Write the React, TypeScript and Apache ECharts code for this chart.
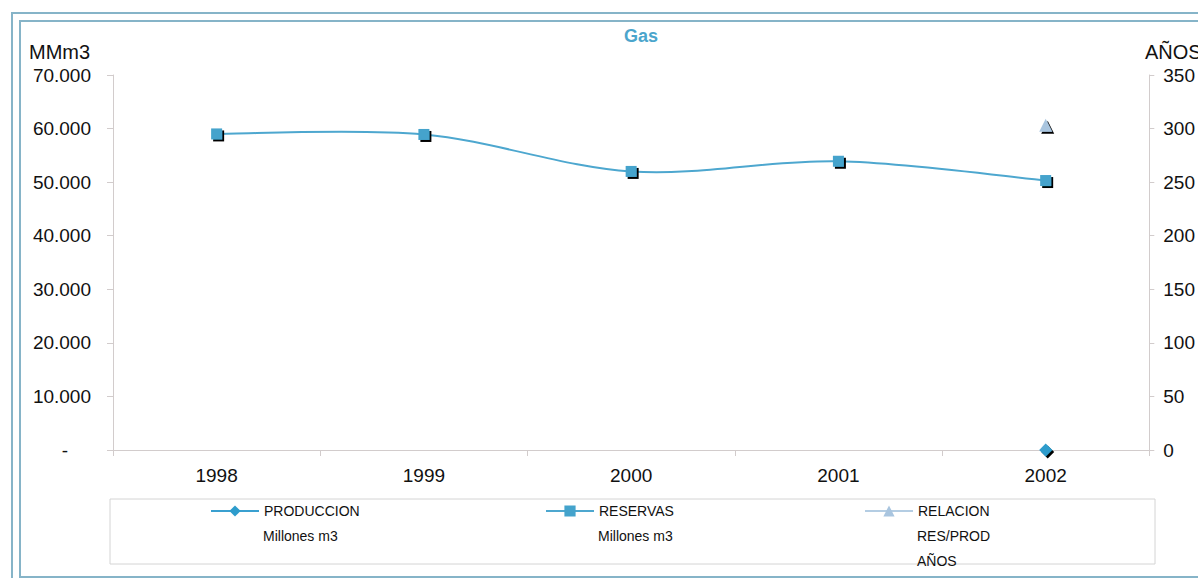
import React, { useEffect, useRef } from "react";
import * as echarts from "echarts";

const years = ["1998", "1999", "2000", "2001", "2002"];
const produccion = [null, null, null, null, 0];
const reservas = [59000, 58900, 52000, 53900, 50300];
const relacion = [null, null, null, null, 303];
const leftTicks = [0, 10000, 20000, 30000, 40000, 50000, 60000, 70000];
const rightTicks = [0, 50, 100, 150, 200, 250, 300, 350];

const FONT = "'Liberation Sans', Arial, sans-serif";
const AXIS_COLOR = "#d2cccc";
const LINE_COLOR = "#4da7cf";
const shadow = { shadowColor: "#000", shadowOffsetX: 2, shadowOffsetY: 2, shadowBlur: 0 };

function fmtThousands(v: number): string {
  return String(v).replace(/\B(?=(\d{3})+(?!\d))/g, ".");
}

export default function App() {
  const ref = useRef<HTMLDivElement>(null);
  useEffect(() => {
    if (!ref.current) return;
    const chart = echarts.init(ref.current, undefined, { renderer: "svg" });
    const legendText = { fontFamily: FONT, fontSize: 14, color: "#111" };
    const legendBase = {
      top: 504,
      padding: 0,
      itemWidth: 48,
      itemHeight: 14,
      itemGap: 0,
      textStyle: { ...legendText },
      itemStyle: { shadowColor: "transparent", shadowOffsetX: 0, shadowOffsetY: 0 },
      selectedMode: false,
    };
    const n = reservas.length;
    chart.setOption({
      animation: false,
      backgroundColor: "#fff",
      title: {
        text: "Gas",
        left: 641,
        top: 27,
        padding: 0,
        textAlign: "center",
        textStyle: { fontFamily: FONT, fontSize: 18, fontWeight: "bold", color: "#4ba5cc" },
      },
      legend: [
        { ...legendBase, left: 210, data: ["PRODUCCION"] },
        {
          ...legendBase,
          left: 545,
          data: ["RESERVAS"],
          lineStyle: { color: LINE_COLOR, width: 2, opacity: 1 },
        },
        { ...legendBase, left: 864, data: ["RELACION"] },
      ],
      grid: { left: 113, right: 45, top: 75, bottom: 128, containLabel: false },
      xAxis: {
        type: "category",
        data: years,
        boundaryGap: true,
        axisLine: { lineStyle: { color: AXIS_COLOR, width: 1 } },
        axisTick: { show: true, length: 6, lineStyle: { color: AXIS_COLOR } },
        axisLabel: { fontFamily: FONT, fontSize: 19, color: "#111", margin: 16 },
      },
      yAxis: [
        {
          type: "value",
          min: leftTicks[0],
          max: leftTicks[leftTicks.length - 1],
          interval: leftTicks[1] - leftTicks[0],
          splitLine: { show: false },
          axisLine: { show: true, lineStyle: { color: AXIS_COLOR } },
          axisTick: { show: true, length: 6, lineStyle: { color: AXIS_COLOR } },
          axisLabel: {
            fontFamily: FONT,
            fontSize: 19,
            color: "#111",
            margin: 22,
            formatter: (v: number) => (v === 0 ? "{d|-}" : fmtThousands(v)),
            rich: { d: { fontFamily: FONT, fontSize: 19, color: "#111", padding: [0, 23, 0, 0] } },
          },
        },
        {
          type: "value",
          min: rightTicks[0],
          max: rightTicks[rightTicks.length - 1],
          interval: rightTicks[1] - rightTicks[0],
          position: "right",
          splitLine: { show: false },
          axisLine: { show: true, lineStyle: { color: AXIS_COLOR } },
          axisTick: { show: true, length: 5, lineStyle: { color: AXIS_COLOR } },
          axisLabel: { fontFamily: FONT, fontSize: 19, color: "#111", margin: 14 },
        },
      ],
      series: [
        {
          name: "RESERVAS_curve",
          type: "custom",
          data: reservas.map((v, i) => [i, v]),
          encode: { x: 0, y: 1 },
          yAxisIndex: 0,
          silent: true,
          z: 2,
          renderItem: (params: any, api: any) => {
            const i = params.dataIndex;
            if (i >= n - 1) return null;
            const pts = reservas.map((v, k) => api.coord([k, v]));
            const p0 = pts[Math.max(i - 1, 0)];
            const p1 = pts[i];
            const p2 = pts[i + 1];
            const p3 = pts[Math.min(i + 2, n - 1)];
            return {
              type: "bezierCurve",
              shape: {
                x1: p1[0],
                y1: p1[1],
                x2: p2[0],
                y2: p2[1],
                cpx1: p1[0] + (p2[0] - p0[0]) / 6,
                cpy1: p1[1] + (p2[1] - p0[1]) / 6,
                cpx2: p2[0] - (p3[0] - p1[0]) / 6,
                cpy2: p2[1] - (p3[1] - p1[1]) / 6,
              },
              style: { stroke: LINE_COLOR, lineWidth: 2, fill: "none" },
            };
          },
        },
        {
          name: "PRODUCCION",
          type: "line",
          data: produccion,
          yAxisIndex: 0,
          symbol: "diamond",
          symbolSize: 13,
          showSymbol: true,
          color: "#2d9ccc",
          lineStyle: { color: "#3aa0d0", width: 2 },
          itemStyle: { color: "#2d9ccc", ...shadow },
          z: 3,
        },
        {
          name: "RESERVAS",
          type: "line",
          data: reservas,
          yAxisIndex: 0,
          symbol: "rect",
          symbolSize: 11,
          showSymbol: true,
          color: "#44a3cc",
          lineStyle: { color: LINE_COLOR, width: 2, opacity: 0 },
          itemStyle: { color: "#44a3cc", ...shadow },
          z: 4,
        },
        {
          name: "RELACION",
          type: "line",
          data: relacion,
          yAxisIndex: 1,
          symbol: "triangle",
          symbolSize: 13,
          showSymbol: true,
          color: "#a9c5df",
          lineStyle: { color: "#b4cde3", width: 2 },
          itemStyle: { color: "#a9c5df", ...shadow },
          z: 3,
        },
      ],
      graphic: [
        {
          type: "rect",
          silent: true,
          shape: { x: 12, y: 13, width: 1250, height: 600 },
          style: { fill: "none", stroke: "#86b4c8", lineWidth: 2 },
          z: -1,
        },
        {
          type: "rect",
          silent: true,
          shape: { x: 20, y: 21, width: 1250, height: 556 },
          style: { fill: "none", stroke: "#86b4c8", lineWidth: 2 },
          z: -1,
        },
        {
          type: "rect",
          silent: true,
          shape: { x: 110, y: 499, width: 1045, height: 65 },
          style: { fill: "none", stroke: "#d4d4d4", lineWidth: 1 },
          z: -1,
        },
        {
          type: "text",
          left: 29,
          top: 42,
          style: { text: "MMm3", fontFamily: FONT, fontSize: 20, fill: "#111" },
        },
        {
          type: "text",
          left: 1145,
          top: 42,
          style: { text: "AÑOS", fontFamily: FONT, fontSize: 20, fill: "#111" },
        },
        { type: "text", left: 263, top: 529, style: { text: "Millones m3", ...legendText, fill: "#111" } },
        { type: "text", left: 598, top: 529, style: { text: "Millones m3", ...legendText, fill: "#111" } },
        { type: "text", left: 917, top: 529, style: { text: "RES/PROD", ...legendText, fill: "#111" } },
        { type: "text", left: 917, top: 554, style: { text: "AÑOS", ...legendText, fill: "#111" } },
      ],
    });
    return () => chart.dispose();
  }, []);
  return (
    <div
      ref={ref}
      style={{ position: "absolute", left: 0, top: 0, width: 1198, height: 578 }}
    />
  );
}
